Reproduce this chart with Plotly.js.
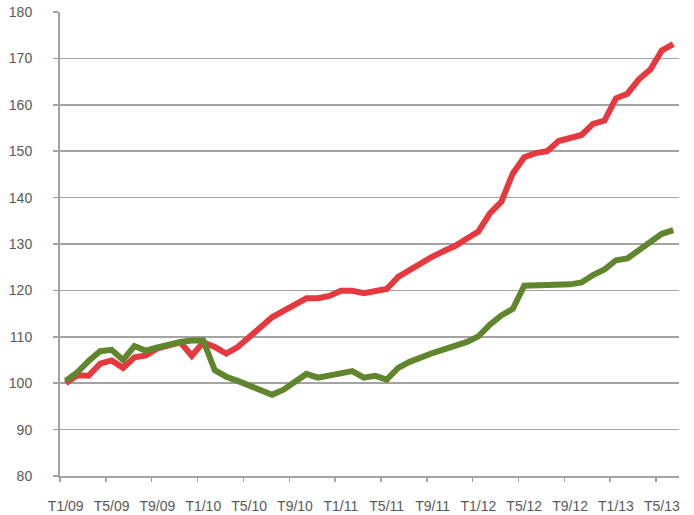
<!DOCTYPE html>
<html>
<head>
<meta charset="utf-8">
<script src="https://cdn.plot.ly/plotly-3.0.1.min.js"></script>
<style>
  html, body { margin: 0; padding: 0; background: #ffffff; }
  #chart { width: 694px; height: 515px; }
</style>
</head>
<body>
<div id="chart"></div>
<script>
const months = [
  'T1/09','T2/09','T3/09','T4/09','T5/09','T6/09','T7/09','T8/09','T9/09','T10/09','T11/09','T12/09',
  'T1/10','T2/10','T3/10','T4/10','T5/10','T6/10','T7/10','T8/10','T9/10','T10/10','T11/10','T12/10',
  'T1/11','T2/11','T3/11','T4/11','T5/11','T6/11','T7/11','T8/11','T9/11','T10/11','T11/11','T12/11',
  'T1/12','T2/12','T3/12','T4/12','T5/12','T6/12','T7/12','T8/12','T9/12','T10/12','T11/12','T12/12',
  'T1/13','T2/13','T3/13','T4/13','T5/13','T6/13'
];

const redSeries = [
  100.0, 101.7, 101.6, 104.2, 104.9, 103.3, 105.6, 106.0, 107.5, 108.2, 108.8, 105.9,
  108.8, 107.8, 106.4, 107.8, 110.0, 112.1, 114.2, 115.6, 116.8, 118.3, 118.3, 118.8,
  119.9, 119.9, 119.4, 119.8, 120.3, 122.9, 124.4, 125.8, 127.3, 128.5, 129.6, 131.2,
  132.7, 136.6, 139.1, 145.2, 148.7, 149.6, 150.0, 152.2, 152.7, 153.5, 155.9, 156.6,
  161.4, 162.4, 165.5, 167.6, 171.7, 173.1
];

const greenSeries = [
  100.5, 102.3, 104.8, 106.9, 107.2, 105.0, 108.0, 107.0, 107.7, 108.4, 108.9, 109.2,
  109.2, 102.8, 101.4, 100.5, 99.4, 98.3, 97.5, 98.6, 100.2, 102.0, 101.2, 101.7,
  102.2, 102.6, 101.2, 101.6, 100.8, 103.3, 104.6, 105.7, 106.5, 107.3, 108.1, 108.9,
  110.1, 112.6, 114.6, 116.0, 121.0, 121.0, 121.0, 121.0, 121.3, 121.7, 123.3, 124.5,
  126.5, 126.9, 128.8, 130.6, 132.2, 133.0
];

const labelStep = 4;
const idx = months.map((m, i) => i);
const labelVals = idx.filter(i => i % labelStep === 0);
const labelText = labelVals.map(i => months[i]);
const boundaryVals = labelVals.map(i => i - 0.5);

const gridColor = '#a3a3a3';
const textColor = '#595959';

const traces = [
  {
    x: idx, y: redSeries, type: 'scatter', mode: 'lines',
    line: { color: '#e5393f', width: 6 },
    hoverinfo: 'skip', showlegend: false
  },
  {
    x: idx, y: greenSeries, type: 'scatter', mode: 'lines',
    line: { color: '#5f862c', width: 6 },
    hoverinfo: 'skip', showlegend: false
  }
];

const layout = {
  width: 694, height: 515,
  margin: { l: 60, r: 15, t: 12, b: 39 },
  paper_bgcolor: '#ffffff', plot_bgcolor: '#ffffff',
  font: { family: 'Liberation Sans, Arial, sans-serif', size: 14, color: textColor },
  showlegend: false,
  xaxis: {
    range: [-0.5, months.length - 0.5],
    tickmode: 'array', tickvals: labelVals, ticktext: labelText,
    ticks: '', showgrid: false, zeroline: false,
    showline: true, linecolor: gridColor, linewidth: 2,
    ticklabelstandoff: 16,
    minor: { tickmode: 'array', tickvals: boundaryVals, ticks: 'outside', ticklen: 4, tickwidth: 1.5, tickcolor: gridColor, showgrid: false },
    fixedrange: true
  },
  yaxis: {
    range: [80, 180], dtick: 10, tick0: 80,
    ticks: 'outside', ticklen: 5, tickwidth: 1.5, tickcolor: gridColor,
    showgrid: true, gridcolor: gridColor, gridwidth: 1.5,
    zeroline: false,
    showline: true, linecolor: gridColor, linewidth: 2,
    ticklabelstandoff: 18,
    fixedrange: true
  }
};

Plotly.newPlot('chart', traces, layout, { displayModeBar: false, staticPlot: true });
</script>
</body>
</html>
